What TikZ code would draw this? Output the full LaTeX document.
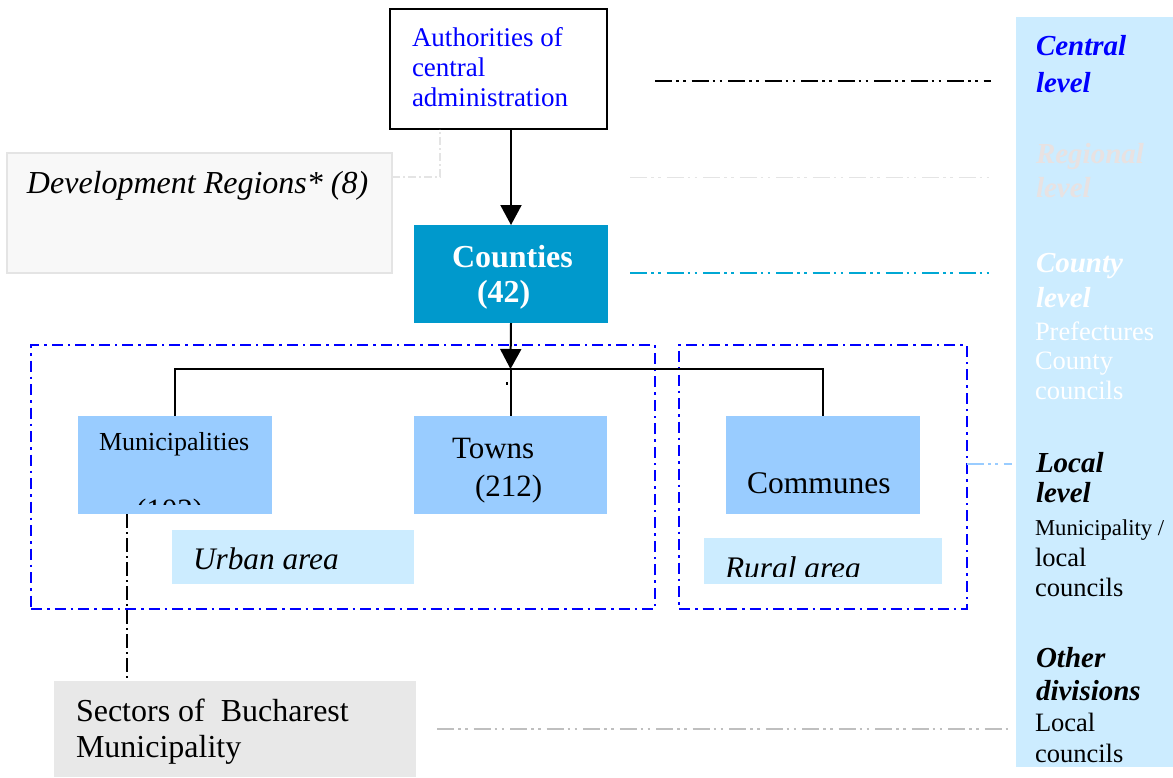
\documentclass[tikz,border=0pt]{standalone}
\usepackage{fontspec}
\setmainfont{Liberation Serif}
\usetikzlibrary{arrows.meta}
\definecolor{panelblue}{HTML}{CCECFF}
\definecolor{unitblue}{HTML}{99CCFF}
\definecolor{countyblue}{HTML}{0099CC}
\definecolor{inkblue}{HTML}{0000FF}
\definecolor{regfill}{HTML}{F8F8F8}
\definecolor{regedge}{HTML}{E4E4E4}
\definecolor{sectorgray}{HTML}{E8E8E8}
\definecolor{regtext}{HTML}{E8E2E2}
\newcommand\fsz[1]{\fontsize{#1}{#1}\selectfont}
\begin{document}
\begin{tikzpicture}[x=1pt,y=-1pt,
  box/.style={rectangle, inner sep=0pt, outer sep=0pt, anchor=north west},
  txt/.style={anchor=base west, inner sep=0pt, outer sep=0pt},
  solidline/.style={line width=2pt},
  ddot/.style={dash pattern=on 17pt off 4pt on 2.5pt off 4.5pt on 2.5pt off 6pt},
  zone/.style={box, draw=inkblue, line width=1.8pt,
    dash pattern=on 11pt off 5pt on 2.5pt off 5pt},
  tiptri/.style={-{Triangle[width=21pt,length=20pt]}}
]
\useasboundingbox (0,0) rectangle (1173,777);

% right-hand level panel
\node[box, fill=panelblue, minimum width=157pt, minimum height=750pt] (panel) at (1016,17) {};

% boxes
\node[box, draw, line width=2pt, fill=white, minimum width=217pt, minimum height=120pt] (auth) at (390,9) {};
\node[box, draw=regedge, line width=1.2pt, fill=regfill, minimum width=385pt, minimum height=120pt] (devreg) at (7,153) {};
\node[box, fill=countyblue, minimum width=194pt, minimum height=98pt] (counties) at (414,225) {};
\node[zone, minimum width=624pt, minimum height=264pt] (urbanzone) at (31,345) {};
\node[zone, minimum width=288pt, minimum height=264pt] (ruralzone) at (679,345) {};
\node[box, fill=unitblue, minimum width=194pt, minimum height=98pt] (muni) at (78,416) {};
\node[box, fill=unitblue, minimum width=193pt, minimum height=98pt] (towns) at (414,416) {};
\node[box, fill=unitblue, minimum width=194pt, minimum height=98pt] (communes) at (726,416) {};
\node[box, fill=panelblue, minimum width=242pt, minimum height=54pt] (urban) at (172,530) {};
\node[box, fill=panelblue, minimum width=238pt, minimum height=46pt] (rural) at (704,538) {};
\node[box, fill=sectorgray, minimum width=362pt, minimum height=96pt] (sectors) at (54,681) {};

% texts in the boxes
\node[txt, text=inkblue, font=\fsz{27}] (authA) at (412,46) {Authorities of};
\node[txt, text=inkblue, font=\fsz{27}] (authB) at (412,76) {central};
\node[txt, text=inkblue, font=\fsz{27}] (authC) at (412,106) {administration};
\node[txt, font=\fsz{32}\itshape] (devtext) at (27,193) {Development Regions* (8)};
\node[txt, text=white, font=\fsz{32}\bfseries] (countA) at (452,267) {Counties};
\node[txt, text=white, font=\fsz{32}\bfseries] (countB) at (477,302) {(42)};
\node[txt, font=\fsz{26}] (munitext) at (99,450) {Municipalities};
\begin{scope}
  \clip (muni.north west) rectangle ([yshift=9.5pt]muni.south east);
  \node[txt, font=\fsz{31}] (municount) at (136,520) {(102)};
\end{scope}
\node[txt, font=\fsz{31}] (townA) at (452,458) {Towns};
\node[txt, font=\fsz{31}] (townB) at (475,496) {(212)};
\node[txt, font=\fsz{31.5}] (commtext) at (747,493) {Communes};
\node[txt, font=\fsz{31.3}\itshape] (urbantext) at (193,569) {Urban area};
\begin{scope}
  \clip (rural.north west) rectangle ([yshift=8pt]rural.south east);
  \node[txt, font=\fsz{31.4}\itshape] (ruraltext) at (725,578.5) {Rural area};
\end{scope}
\node[txt, font=\fsz{32}] (sectA) at (76,721) {Sectors of \ Bucharest};
\node[txt, font=\fsz{32}] (sectB) at (76,757) {Municipality};

% level labels
\node[txt, text=inkblue, font=\fsz{29}\bfseries\itshape] (lvA) at (1036,55) {Central};
\node[txt, text=inkblue, font=\fsz{29}\bfseries\itshape] (lvB) at (1036,92) {level};
\node[txt, text=regtext, font=\fsz{29}\bfseries\itshape] (lvC) at (1036,163) {Regional};
\node[txt, text=regtext, font=\fsz{29}\bfseries\itshape] (lvD) at (1036,197) {level};
\node[txt, text=white, font=\fsz{29}\bfseries\itshape] (lvE) at (1036,272) {County};
\node[txt, text=white, font=\fsz{29}\bfseries\itshape] (lvF) at (1036,307) {level};
\node[txt, text=white, font=\fsz{26.5}] (lvG) at (1035,340) {Prefectures};
\node[txt, text=white, font=\fsz{26.5}] (lvH) at (1035,369) {County};
\node[txt, text=white, font=\fsz{26.5}] (lvI) at (1035,399) {councils};
\node[txt, font=\fsz{29}\bfseries\itshape] (lvJ) at (1036,472) {Local};
\node[txt, font=\fsz{29}\bfseries\itshape] (lvK) at (1036,502) {level};
\node[txt, font=\fsz{22.7}] (lvL) at (1035,535) {Municipality /};
\node[txt, font=\fsz{26.5}] (lvM) at (1035,566) {local};
\node[txt, font=\fsz{26.5}] (lvN) at (1035,596) {councils};
\node[txt, font=\fsz{29}\bfseries\itshape] (lvO) at (1036,667) {Other};
\node[txt, font=\fsz{29}\bfseries\itshape] (lvP) at (1036,700) {divisions};
\node[txt, font=\fsz{26.5}] (lvQ) at (1035,731) {Local};
\node[txt, font=\fsz{26.5}] (lvR) at (1035,762) {councils};

% hierarchy connectors
\coordinate (hub) at (510.5,369);
\draw[solidline, tiptri] (auth.south -| counties.north) -- (counties.north);
\draw[solidline, tiptri] (counties.south) -- (hub);
\draw[line width=1.8pt] (muni.north) |- (hub) -| (communes.north);
\draw[solidline] (hub) -- (towns.north);
\fill (506.3,381.5) rectangle (508,384.5);

% development regions link to the central authorities
\draw[color=regedge, line width=1.2pt, dash pattern=on 8pt off 3pt on 2pt off 3pt]
  ([yshift=36pt]devreg.east) -| ([xshift=-58.5pt]auth.south);

% Bucharest sectors hang off the municipalities
\draw[line width=1.8pt, dash pattern=on 14pt off 4pt on 2pt off 4pt]
  ([xshift=-48pt]muni.south) -- ([xshift=-48pt]muni.south |- sectors.north);

% guide lines towards the level panel
\coordinate (centralL) at (655,81);
\coordinate (centralR) at (991,81);
\coordinate (regionalL) at (630,177.5);
\coordinate (regionalR) at (991,177.5);
\coordinate (countyL) at (630,273);
\coordinate (countyR) at (991,273);
\coordinate (localR) at (1012,464);
\draw[line width=2pt, ddot] (centralL) -- (centralR);
\draw[line width=1.5pt, ddot, color=regedge] (regionalL) -- (regionalR);
\draw[line width=1.5pt, ddot, color=countyblue!85!cyan] (countyL) -- (countyR);
\draw[line width=1.3pt, ddot, color=unitblue] (ruralzone.east |- localR) -- (localR);
\draw[line width=1.5pt, ddot, color=black!25]
  ([xshift=21pt]sectors.east) -- ([xshift=-5pt]panel.west |- sectors.east);
\end{tikzpicture}
\end{document}
